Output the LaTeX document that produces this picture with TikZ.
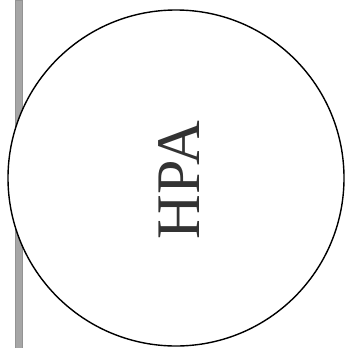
\documentclass[tikz,border=0pt]{standalone}
\usepackage{fontspec}
\setmainfont{Liberation Serif}
\begin{document}
\begin{tikzpicture}[x=1pt,y=-1pt,
  barstyle/.style={fill=gray!70,draw=gray!85,line width=0.6pt},
  bigcircle/.style={circle,draw=black,fill=white,line width=1.4pt,minimum size=336pt,inner sep=0pt},
  label/.style={font=\fontsize{62}{62}\selectfont,rotate=90,text=black!80}]
\useasboundingbox (0,0) rectangle (345,348);
\path[barstyle] (15,0) rectangle (22,348);
\node[bigcircle] (c) at (176,178) {};
\node[label] (t) at (179,180) {HPA};
\end{tikzpicture}
\end{document}
